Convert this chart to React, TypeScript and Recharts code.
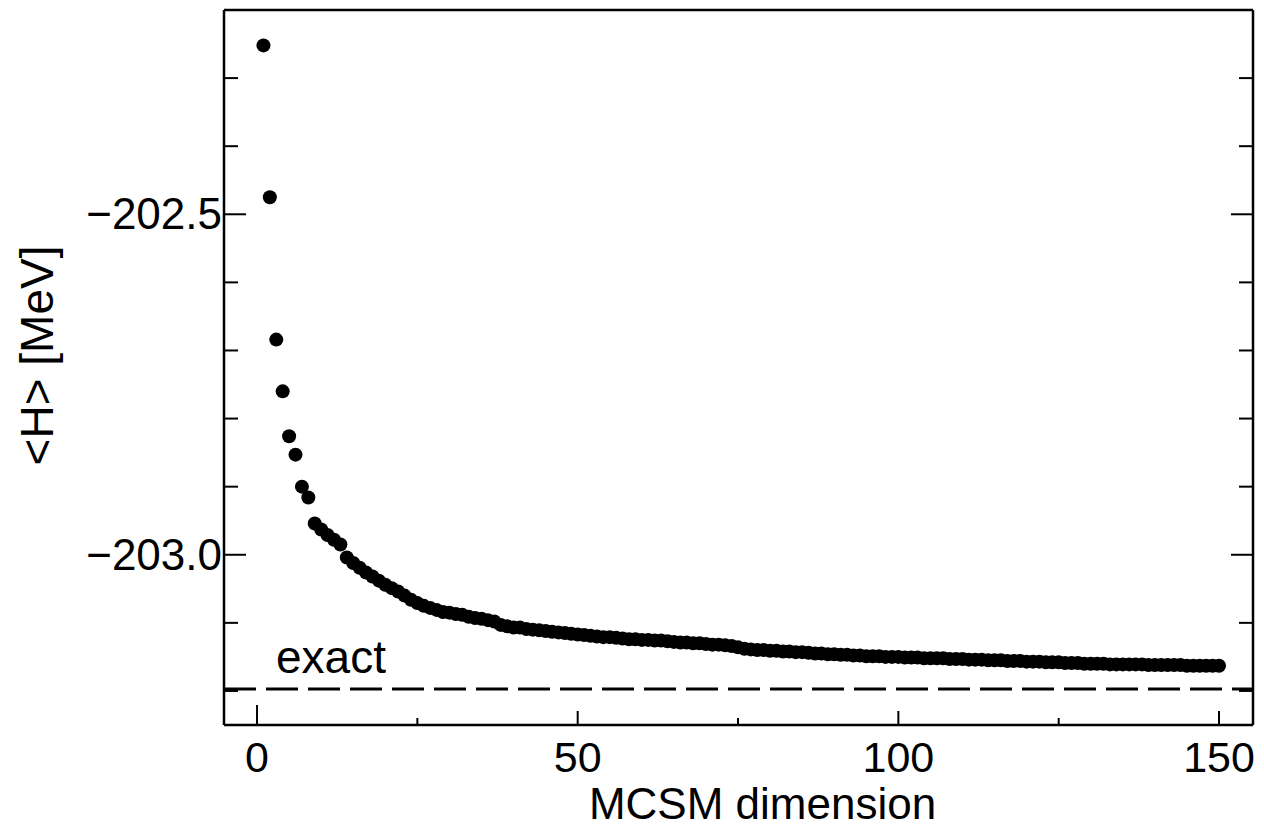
import { ReferenceLine, Scatter, ScatterChart, XAxis, YAxis } from "recharts"

// MCSM dimension (1..150)
const dims = Array.from({ length: 150 }, (_, i) => i + 1)

// <H> in MeV
const energies = [
  -202.252, -202.475, -202.684, -202.76, -202.826, -202.853, -202.9, -202.916, -202.954, -202.963,
  -202.971, -202.978, -202.985, -203.004, -203.012, -203.019, -203.026, -203.032, -203.038, -203.044,
  -203.049, -203.054, -203.06, -203.066, -203.071, -203.075, -203.078, -203.081, -203.084, -203.085,
  -203.087, -203.088, -203.091, -203.093, -203.094, -203.096, -203.098, -203.103, -203.105, -203.107,
  -203.107, -203.109, -203.11, -203.111, -203.112, -203.113, -203.114, -203.115, -203.116, -203.117,
  -203.118, -203.119, -203.12, -203.121, -203.121, -203.122, -203.123, -203.124, -203.124, -203.125,
  -203.125, -203.126, -203.126, -203.127, -203.128, -203.129, -203.129, -203.13, -203.13, -203.131,
  -203.132, -203.132, -203.133, -203.134, -203.136, -203.138, -203.139, -203.14, -203.14, -203.141,
  -203.141, -203.142, -203.142, -203.143, -203.143, -203.144, -203.145, -203.145, -203.146, -203.146,
  -203.147, -203.147, -203.148, -203.148, -203.149, -203.149, -203.149, -203.15, -203.15, -203.15,
  -203.151, -203.151, -203.151, -203.152, -203.152, -203.152, -203.152, -203.153, -203.153, -203.153,
  -203.154, -203.154, -203.154, -203.155, -203.155, -203.155, -203.156, -203.156, -203.156, -203.157,
  -203.157, -203.157, -203.158, -203.158, -203.158, -203.159, -203.159, -203.159, -203.16, -203.16,
  -203.16, -203.16, -203.161, -203.161, -203.161, -203.161, -203.161, -203.161, -203.162, -203.162,
  -203.162, -203.162, -203.162, -203.162, -203.163, -203.163, -203.163, -203.163, -203.163, -203.163,
]

const exactEnergy = -203.197

const xTicks = [0, 25, 50, 75, 100, 125, 150]
const xLabels = [0, 50, 100, 150]
const yTicks = [-203.2, -203.1, -203.0, -202.9, -202.8, -202.7, -202.6, -202.5, -202.4, -202.3]
const yLabels: Record<string, string> = { "-203": "\u2212203.0", "-202.5": "\u2212202.5" }

const data = dims.map((d, i) => ({ dim: d, h: energies[i] }))

const FONT = "'Liberation Sans', Arial, Helvetica, sans-serif"

function XTick(props: any) {
  const { x, y, payload, top } = props
  const v = payload.value
  const major = xLabels.includes(v)
  const len = v === 0 ? 20 : major ? 14 : 7
  const dir = top ? 1 : -1
  return (
    <g>
      <line x1={x} y1={y} x2={x} y2={y + dir * len} stroke="#000" strokeWidth={2} />
      {!top && major && (
        <text x={x} y={y + 47} textAnchor="middle" fontSize={43} fontFamily={FONT} fill="#000">
          {v}
        </text>
      )}
    </g>
  )
}

function YTick(props: any) {
  const { x, y, payload, right } = props
  const key = String(Number(payload.value.toFixed(1)))
  const label = yLabels[key]
  const len = label ? 22 : 14
  const dir = right ? -1 : 1
  return (
    <g>
      <line x1={x} y1={y} x2={x + dir * len} y2={y} stroke="#000" strokeWidth={2} />
      {!right && label && (
        <text x={x - 2} y={y + 15} textAnchor="end" fontSize={44} fontFamily={FONT} fill="#000">
          {label}
        </text>
      )}
    </g>
  )
}

export default function App() {
  return (
    <div style={{ position: "absolute", left: 0, top: 0, background: "#fff" }}>
      <ScatterChart width={1264} height={829} margin={{ top: 9, right: 10, bottom: 14, left: 0 }}>
        <XAxis
          dataKey="dim"
          type="number"
          domain={[-5.15, 155.3]}
          allowDataOverflow
          ticks={xTicks}
          interval={0}
          height={90}
          tickSize={0}
          tickMargin={0}
          tickLine={false}
          axisLine={{ stroke: "#000", strokeWidth: 2.5 }}
          tick={(p: any) => <XTick {...p} />}
          label={{
            content: (p: any) => (
              <text
                x={p.viewBox.x + p.viewBox.width / 2 + 24}
                y={p.viewBox.y + 94}
                textAnchor="middle"
                fontSize={44}
                fontFamily={FONT}
                fill="#000"
              >
                MCSM dimension
              </text>
            ),
          }}
        />
        <XAxis
          xAxisId="top"
          orientation="top"
          type="number"
          domain={[-5.15, 155.3]}
          allowDataOverflow
          ticks={xTicks}
          interval={0}
          height={1}
          tickSize={0}
          tickMargin={0}
          tickLine={false}
          axisLine={{ stroke: "#000", strokeWidth: 2.5 }}
          tick={(p: any) => <XTick {...p} top />}
        />
        <YAxis
          dataKey="h"
          type="number"
          domain={[-203.25, -202.2]}
          allowDataOverflow
          ticks={yTicks}
          interval={0}
          width={224}
          tickSize={0}
          tickMargin={0}
          tickLine={false}
          axisLine={{ stroke: "#000", strokeWidth: 2.5 }}
          tick={(p: any) => <YTick {...p} />}
          label={{
            content: (p: any) => {
              const cx = 37
              const cy = p.viewBox.y + p.viewBox.height / 2 - 12
              return (
                <text
                  x={cx}
                  y={cy}
                  transform={`rotate(-90 ${cx} ${cy})`}
                  textAnchor="middle"
                  dominantBaseline="central"
                  fontSize={46}
                  fontFamily={FONT}
                  fill="#000"
                >
                  {"<H> [MeV]"}
                </text>
              )
            },
          }}
        />
        <YAxis
          yAxisId="right"
          orientation="right"
          type="number"
          domain={[-203.25, -202.2]}
          allowDataOverflow
          ticks={yTicks}
          interval={0}
          width={1}
          tickSize={0}
          tickMargin={0}
          tickLine={false}
          axisLine={{ stroke: "#000", strokeWidth: 2.5 }}
          tick={(p: any) => <YTick {...p} right />}
        />
        <ReferenceLine
          y={exactEnergy}
          stroke="#000"
          strokeWidth={3}
          strokeDasharray="32 10"
          label={{
            content: (p: any) => (
              <text x={p.viewBox.x + 52} y={p.viewBox.y - 16} fontSize={46} fontFamily={FONT} fill="#000">
                exact
              </text>
            ),
          }}
        />
        <Scatter
          data={data}
          isAnimationActive={false}
          shape={(p: any) => <circle cx={p.cx} cy={p.cy} r={7} fill="#000" />}
        />
      </ScatterChart>
    </div>
  )
}
